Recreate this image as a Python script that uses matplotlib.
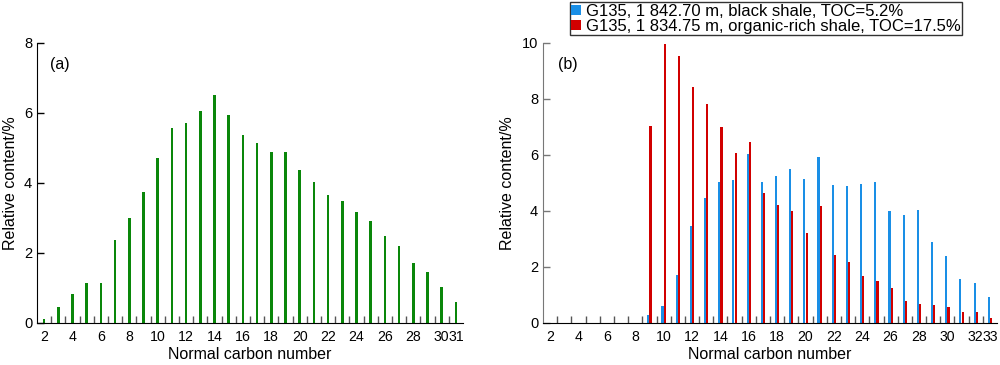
import numpy as np
import matplotlib
matplotlib.use('Agg')
import matplotlib.pyplot as plt

plt.rcParams['font.family'] = ['Liberation Sans', 'DejaVu Sans']

# ============================
# Data
# ============================

# (a) carbon numbers C2..C31
carbon_a = list(range(2, 32))
content_a = [0.1, 0.47, 0.84, 1.15, 1.15, 2.37, 3.0, 3.74, 4.7, 5.56,
             5.7, 6.07, 6.51, 5.95, 5.37, 5.13, 4.88, 4.88, 4.37, 4.02,
             3.66, 3.49, 3.16, 2.91, 2.49, 2.21, 1.71, 1.46, 1.02, 0.6]

# (b) carbon numbers C2..C33
carbon_b = list(range(2, 34))
black_shale = [0, 0, 0, 0, 0, 0, 0, 0.3, 0.6, 1.7,
               3.46, 4.46, 5.04, 5.11, 6.02, 5.02, 5.25, 5.5, 5.14, 5.92,
               4.92, 4.88, 4.96, 5.02, 4.0, 3.86, 4.02, 2.89, 2.39, 1.57,
               1.42, 0.93]
organic_shale = [0, 0, 0, 0, 0, 0, 0, 7.04, 9.96, 9.54,
                 8.43, 7.81, 6.99, 6.08, 6.46, 4.64, 4.21, 4.01, 3.21, 4.18,
                 2.43, 2.17, 1.69, 1.5, 1.25, 0.79, 0.68, 0.63, 0.57, 0.38,
                 0.38, 0.18]

labels_b = ['G135, 1 842.70 m, black shale, TOC=5.2%',
            'G135, 1 834.75 m, organic-rich shale, TOC=17.5%']

# ============================
# Figure
# ============================

fig = plt.figure(figsize=(10, 3.65), dpi=100)
ax_a = fig.add_axes([0.037, 0.1151, 0.426, 0.7671])
ax_b = fig.add_axes([0.543, 0.1151, 0.454, 0.7671])


def style_axis(ax, xmax, ymax, spine_color, ylabelpad):
    ax.set_xlim(1.5, xmax + 0.5)
    ax.set_ylim(0, ymax)
    for side in ['top', 'right']:
        ax.spines[side].set_visible(False)
    ax.spines['left'].set_color(spine_color)
    ax.spines['bottom'].set_color('black')
    # labels at integer positions, tick marks between categories
    ticks = list(range(2, xmax, 2))
    if ticks[-1] != xmax:
        ticks.append(xmax)
    ax.set_xticks(ticks)
    ax.set_xticklabels([str(t) for t in ticks])
    ax.set_xticks(np.arange(2.5, xmax, 1.0), minor=True)
    ax.tick_params(axis='x', which='major', length=0, pad=5, labelsize=10.2)
    ax.tick_params(axis='x', which='minor', direction='in', length=5,
                   width=1, color='#555555')
    ax.set_yticks(range(0, ymax + 1, 2))
    ax.tick_params(axis='y', direction='in', length=5, width=1,
                   color=spine_color, labelsize=10.5, pad=3.5)
    ax.set_xlabel('Normal carbon number', fontsize=11.5, labelpad=2)
    ax.set_ylabel('Relative content/%', fontsize=11.5, labelpad=ylabelpad)


# (a)
ax_a.bar(carbon_a, content_a, width=0.18, color='#0a870a')
style_axis(ax_a, 31, 8, 'black', 4)
ax_a.text(0.03, 0.95, '(a)', transform=ax_a.transAxes, fontsize=11.5,
          va='top', ha='left')

# (b)
xb = np.array(carbon_b)
ax_b.bar(xb - 0.08, black_shale, width=0.15, color='#1a8fe6', label=labels_b[0])
ax_b.bar(xb + 0.08, organic_shale, width=0.15, color='#d10000', label=labels_b[1])
style_axis(ax_b, 33, 10, '#777777', 5)
ax_b.text(0.033, 0.95, '(b)', transform=ax_b.transAxes, fontsize=11.5,
          va='top', ha='left')

leg = ax_b.legend(loc='upper left', bbox_to_anchor=(0.059, 1.147),
                  fontsize=12, frameon=True, fancybox=False, borderaxespad=0,
                  handlelength=0.55, handleheight=0.55, handletextpad=0.3,
                  borderpad=0.1, labelspacing=0.0)
leg.get_frame().set_edgecolor('black')
leg.get_frame().set_linewidth(1)

fig.savefig('out.png', dpi=100)
